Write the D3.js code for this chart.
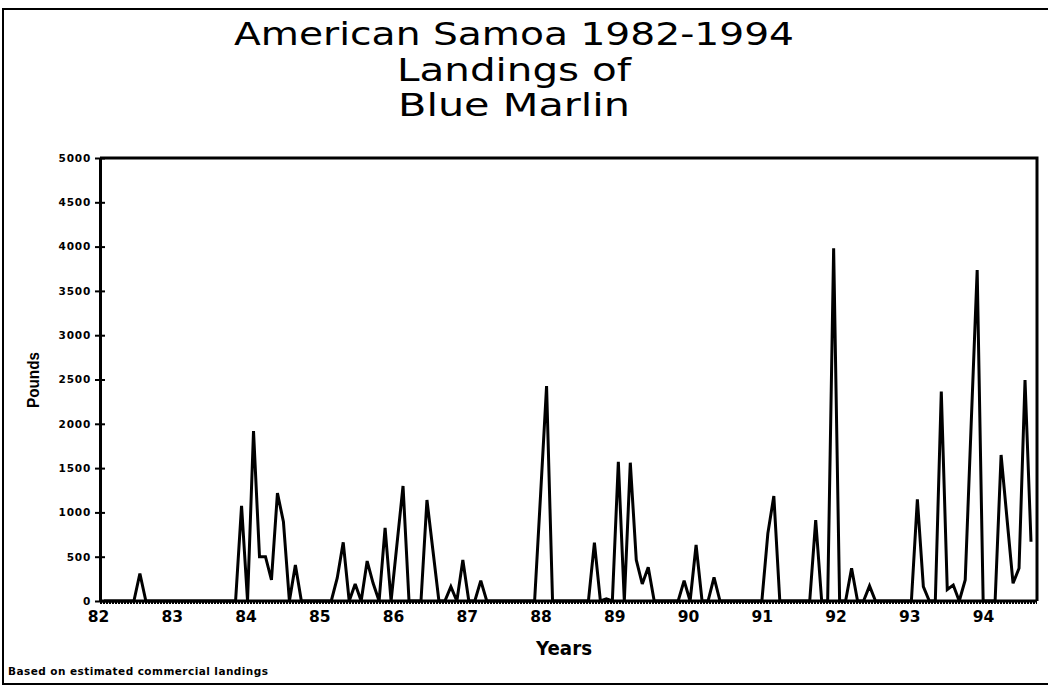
<!DOCTYPE html>
<html><head><meta charset="utf-8">
<script src="https://cdn.jsdelivr.net/npm/d3@7"></script>
<style>body{margin:0;background:#fff}svg{display:block}</style>
</head><body><svg id="c" width="1048" height="688"></svg>
<script>
// ---- data ----
const titleLines = ["American Samoa 1982-1994", "Landings of", "Blue Marlin"];
const yearLabels = [82, 83, 84, 85, 86, 87, 88, 89, 90, 91, 92, 93, 94];
const yTickValues = [0, 500, 1000, 1500, 2000, 2500, 3000, 3500, 4000, 4500, 5000];
const xTitle = "Years";
const yTitle = "Pounds";
const footnote = "Based on estimated commercial landings";
// monthly landings (pounds), one value per plotted point, 1982 onward
const pounds = [
  0, 0, 0, 0, 0, 0, 310, 0, 0, 0, 0, 0,
  0, 0, 0, 0, 0, 0, 0, 0, 0, 0, 0, 1075,
  0, 1918, 500, 500, 237, 1218, 895, 0, 406, 0, 0, 0,
  0, 0, 0, 260, 662, 0, 192, 0, 451, 200, 0, 824,
  0, 650, 1298, 0, 0, 0, 1140, 570, 0, 0, 162, 0,
  463, 0, 0, 230, 0, 0, 0, 0, 0, 0, 0, 0,
  0, 1200, 2427, 0, 0, 0, 0, 0, 0, 0, 658, 0,
  25, 0, 1572, 0, 1561, 463, 192, 380, 0, 0, 0, 0,
  0, 230, 0, 632, 0, 0, 267, 0, 0, 0, 0, 0,
  0, 0, 0, 764, 1185, 0, 0, 0, 0, 0, 0, 914,
  0, 0, 3980, 0, 0, 369, 0, 0, 170, 0, 0, 0,
  0, 0, 0, 0, 1148, 162, 0, 0, 2363, 130, 180, 0,
  237, 2000, 3736, 0, 0, 0, 1648, 920, 200, 369, 2494, 669,
  ];

// ---- layout ----
const svg = d3.select("#c");
const plot = {left: 100, right: 1037, top: 158, bottom: 601};

const x = d3.scaleLinear().domain([0, pounds.length - 1]).range([104, 1031]);
const y = d3.scaleLinear().domain([0, 5000]).range([plot.bottom, plot.top]);
const xYear = d3.scaleLinear().domain([82, 94]).range([98, 983]);

// outer frame
svg.append("rect").attr("x", 3).attr("y", 9).attr("width", 1060).attr("height", 675)
  .attr("fill", "none").attr("stroke", "#000").attr("stroke-width", 2);

// title
const titleSpec = [{y: 45, len: 560}, {y: 81, len: 234}, {y: 116, len: 232}];
svg.append("g").selectAll("text").data(titleLines).join("text")
  .attr("x", 514).attr("y", (d, i) => titleSpec[i].y)
  .attr("text-anchor", "middle")
  .attr("font-family", "'DejaVu Sans', sans-serif")
  .attr("font-size", 32)
  .attr("textLength", (d, i) => titleSpec[i].len)
  .attr("lengthAdjust", "spacingAndGlyphs")
  .attr("fill", "#000")
  .text(d => d);

// plot frame (top and right)
svg.append("path")
  .attr("d", `M${plot.left},${plot.top}H${plot.right}V${plot.bottom}`)
  .attr("fill", "none").attr("stroke", "#000").attr("stroke-width", 3);

// y axis
const yAxis = d3.axisLeft(y).tickValues(yTickValues).tickFormat(d3.format("d"))
  .tickSizeInner(4).tickSizeOuter(0).tickPadding(4);
const gy = svg.append("g").attr("transform", `translate(${plot.left},0)`).call(yAxis);
gy.select(".domain").attr("stroke-width", 3);
gy.selectAll(".tick line").attr("x1", -5).attr("x2", 5).attr("stroke-width", 2);
gy.selectAll(".tick text")
  .attr("font-family", "'DejaVu Sans', sans-serif")
  .attr("font-weight", "bold").attr("font-size", 10.5)
  .attr("letter-spacing", 0.8)
  .attr("x", -9);

// y title
svg.append("text")
  .attr("transform", "translate(39,380) rotate(-90)")
  .attr("text-anchor", "middle")
  .attr("font-family", "'Liberation Sans Narrow', 'Liberation Sans', sans-serif")
  .attr("font-weight", "bold")
  .attr("font-size", 17)
  .attr("textLength", 56).attr("lengthAdjust", "spacingAndGlyphs")
  .text(yTitle);

// x axis baseline (beaded look)
svg.append("line").attr("x1", plot.left).attr("x2", plot.right)
  .attr("y1", plot.bottom).attr("y2", plot.bottom)
  .attr("stroke", "#000").attr("stroke-width", 3);
svg.append("line").attr("x1", plot.left).attr("x2", plot.right)
  .attr("y1", plot.bottom + 1).attr("y2", plot.bottom + 1)
  .attr("stroke", "#000").attr("stroke-width", 4).attr("stroke-dasharray", "2,1");

// x tick labels
const xAxis = d3.axisBottom(xYear).tickValues(yearLabels).tickSize(0).tickPadding(10).tickFormat(d3.format("d"));
const gx = svg.append("g").attr("transform", `translate(0,${plot.bottom})`).call(xAxis);
gx.select(".domain").remove();
gx.selectAll(".tick text")
  .attr("font-family", "'DejaVu Sans', sans-serif")
  .attr("font-weight", "bold").attr("font-size", 15.5);

// x title
svg.append("text").attr("x", 564).attr("y", 655)
  .attr("text-anchor", "middle")
  .attr("font-family", "'DejaVu Sans', sans-serif")
  .attr("font-weight", "bold")
  .attr("font-size", 19)
  .attr("textLength", 56).attr("lengthAdjust", "spacingAndGlyphs")
  .text(xTitle);

// footnote
svg.append("text").attr("x", 8).attr("y", 675)
  .attr("font-family", "'DejaVu Sans', sans-serif")
  .attr("font-weight", "bold").attr("font-size", 10.5)
  .attr("textLength", 260).attr("lengthAdjust", "spacing")
  .text(footnote);

// data line
const line = d3.line().x((d, i) => x(i)).y(d => y(d));
svg.append("path").datum(pounds)
  .attr("d", line)
  .attr("fill", "none").attr("stroke", "#000").attr("stroke-width", 3)
  .attr("stroke-linejoin", "miter").attr("stroke-miterlimit", 3);
</script>
</body></html>
